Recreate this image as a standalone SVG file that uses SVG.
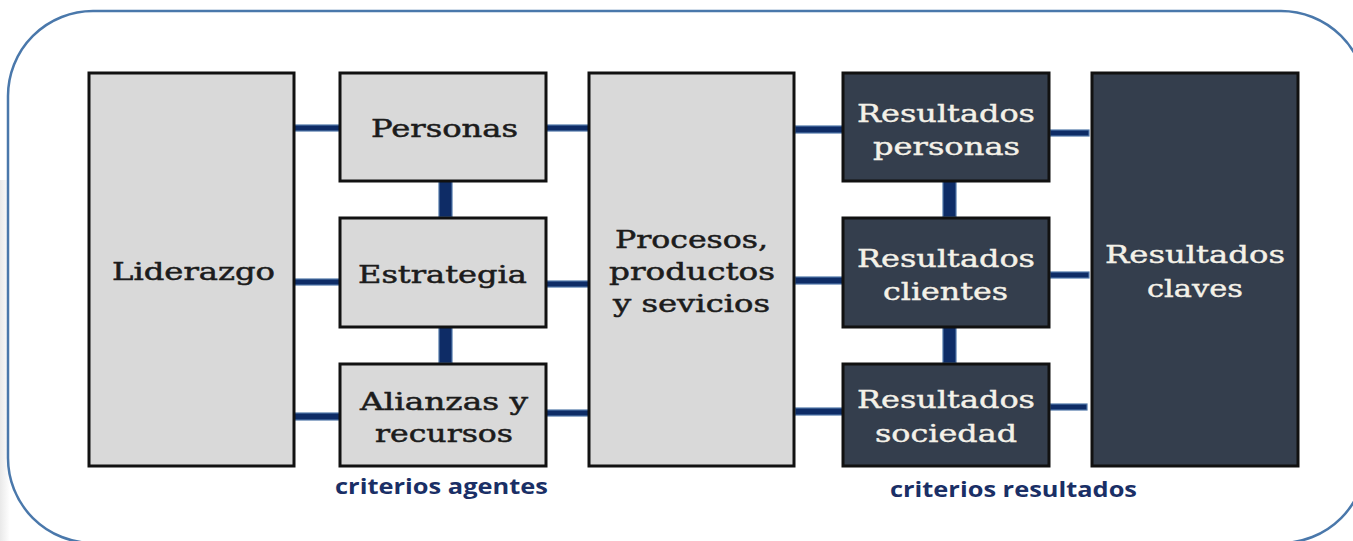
<svg xmlns="http://www.w3.org/2000/svg" width="1353" height="541" viewBox="0 0 1353 541">
<defs>
<style>
.frame{fill:#ffffff;stroke:#4a78ab;stroke-width:2.5}
.lt{fill:#d9d9d9;stroke:#111111;stroke-width:3}
.dk{fill:#343e4d;stroke:#111111;stroke-width:3}
.tl{font-family:"DejaVu Serif","Liberation Serif",serif;font-size:24px;fill:#1c1c1c;stroke:#1c1c1c;stroke-width:0.5;text-anchor:start}
.td{font-family:"DejaVu Serif","Liberation Serif",serif;font-size:24px;fill:#f4f1e8;stroke:#f4f1e8;stroke-width:0.4;text-anchor:start}
.cap{font-family:"Open Sans","Liberation Sans",sans-serif;font-weight:bold;font-size:21px;fill:#1a2f66}
.cn{fill:#0e2c66;stroke:#5077a8;stroke-width:1.2}
</style>
<linearGradient id="shade" x1="0" y1="0" x2="1" y2="0">
<stop offset="0" stop-color="#e9e9e9"/>
<stop offset="1" stop-color="#ffffff"/>
</linearGradient>
</defs>
<rect x="0" y="0" width="1353" height="541" fill="#ffffff"/>
<rect x="0" y="180" width="10" height="361" fill="url(#shade)"/>
<rect class="frame" x="8" y="11" width="1358" height="532" rx="85" ry="85"/>

<g id="connectors">
<rect class="cn" x="294" y="125" width="47" height="6"/>
<rect class="cn" x="294" y="279" width="47" height="6"/>
<rect class="cn" x="294" y="413" width="47" height="7"/>
<rect class="cn" x="546" y="125" width="43" height="6"/>
<rect class="cn" x="546" y="281" width="43" height="6"/>
<rect class="cn" x="546" y="410" width="43" height="6"/>
<rect class="cn" x="795" y="126" width="48" height="7"/>
<rect class="cn" x="795" y="277" width="48" height="7"/>
<rect class="cn" x="795" y="408" width="48" height="7"/>
<rect class="cn" x="1050" y="130" width="39" height="6"/>
<rect class="cn" x="1050" y="272" width="39" height="6"/>
<rect class="cn" x="1050" y="404" width="37" height="6"/>
<rect class="cn" x="439" y="181" width="13" height="36"/>
<rect class="cn" x="439" y="327" width="13" height="36"/>
<rect class="cn" x="943" y="181" width="13" height="36"/>
<rect class="cn" x="943" y="327" width="13" height="36"/>
</g>

<g id="liderazgo">
<rect class="lt" x="89" y="73" width="205" height="393"/>
<text class="tl" x="112" y="280" textLength="163" lengthAdjust="spacingAndGlyphs">Liderazgo</text>
</g>
<g id="personas">
<rect class="lt" x="340" y="73" width="206" height="108"/>
<text class="tl" x="371" y="137" textLength="147" lengthAdjust="spacingAndGlyphs">Personas</text>
</g>
<g id="estrategia">
<rect class="lt" x="340" y="218" width="206" height="109"/>
<text class="tl" x="358" y="283" textLength="169" lengthAdjust="spacingAndGlyphs">Estrategia</text>
</g>
<g id="alianzas">
<rect class="lt" x="340" y="364" width="206" height="102"/>
<text class="tl" x="360" y="410" textLength="168" lengthAdjust="spacingAndGlyphs">Alianzas y</text>
<text class="tl" x="375" y="442" textLength="138" lengthAdjust="spacingAndGlyphs">recursos</text>
</g>
<g id="procesos">
<rect class="lt" x="589" y="73" width="205" height="393"/>
<text class="tl" x="615" y="248" textLength="153" lengthAdjust="spacingAndGlyphs">Procesos,</text>
<text class="tl" x="609" y="280" textLength="166" lengthAdjust="spacingAndGlyphs">productos</text>
<text class="tl" x="613" y="312" textLength="157" lengthAdjust="spacingAndGlyphs">y sevicios</text>
</g>
<g id="res-personas">
<rect class="dk" x="843" y="73" width="206" height="108"/>
<text class="td" x="857" y="122" textLength="178" lengthAdjust="spacingAndGlyphs">Resultados</text>
<text class="td" x="873" y="155" textLength="147" lengthAdjust="spacingAndGlyphs">personas</text>
</g>
<g id="res-clientes">
<rect class="dk" x="843" y="218" width="206" height="109"/>
<text class="td" x="857" y="267" textLength="178" lengthAdjust="spacingAndGlyphs">Resultados</text>
<text class="td" x="883" y="300" textLength="125" lengthAdjust="spacingAndGlyphs">clientes</text>
</g>
<g id="res-sociedad">
<rect class="dk" x="843" y="364" width="206" height="102"/>
<text class="td" x="857" y="408" textLength="178" lengthAdjust="spacingAndGlyphs">Resultados</text>
<text class="td" x="875" y="442" textLength="142" lengthAdjust="spacingAndGlyphs">sociedad</text>
</g>
<g id="res-claves">
<rect class="dk" x="1092" y="73" width="206" height="393"/>
<text class="td" x="1105" y="263" textLength="180" lengthAdjust="spacingAndGlyphs">Resultados</text>
<text class="td" x="1147" y="297" textLength="96" lengthAdjust="spacingAndGlyphs">claves</text>
</g>

<g id="labels">
<text class="cap" x="335" y="494" textLength="213" lengthAdjust="spacingAndGlyphs">criterios agentes</text>
<text class="cap" x="890" y="497" textLength="247" lengthAdjust="spacingAndGlyphs">criterios resultados</text>
</g>
</svg>
